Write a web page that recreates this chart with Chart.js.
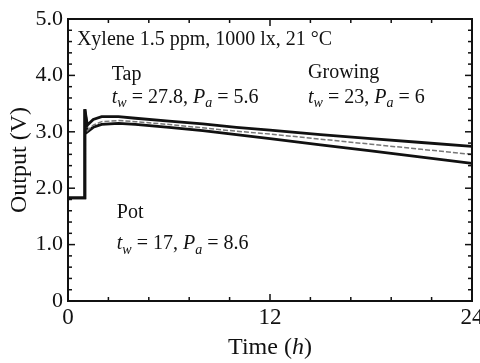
<!DOCTYPE html>
<html>
<head>
<meta charset="utf-8">
<script src="https://cdn.jsdelivr.net/npm/chart.js@4/dist/chart.umd.min.js"></script>
<style>
  html, body { margin: 0; padding: 0; background: #fff; }
  #c { display: block; }
</style>
</head>
<body>
<canvas id="c" width="480" height="363"></canvas>
<script>
// time points (h)
const times = [0, 1.0, 1.0, 1.15, 1.5, 2, 3, 4, 6, 8, 10, 12, 15, 18, 21, 24];
// output (V) of the three traces
const tapOut     = [1.83, 1.83, 3.4, 3.12, 3.22, 3.27, 3.27, 3.24, 3.19, 3.14, 3.08, 3.03, 2.95, 2.88, 2.81, 2.74];
const growingOut = [1.83, 1.83, 3.4, 3.02, 3.12, 3.18, 3.2, 3.18, 3.13, 3.07, 3.01, 2.96, 2.87, 2.78, 2.69, 2.6];
const potOut     = [1.83, 1.83, 3.4, 3.0, 3.08, 3.13, 3.15, 3.13, 3.08, 3.02, 2.95, 2.88, 2.77, 2.66, 2.55, 2.44];

const xLabels = [0, 12, 24];
const xMinor = [2.4, 4.8, 7.2, 9.6, 14.4, 16.8, 19.2, 21.6];
const yLabels = [0, 1, 2, 3, 4, 5];
const yMinor = [0.2, 0.4, 0.6, 0.8, 1.2, 1.4, 1.6, 1.8, 2.2, 2.4, 2.6, 2.8, 3.2, 3.4, 3.6, 3.8, 4.2, 4.4, 4.6, 4.8];

// annotation texts, placed in data units
const notes = [
  { x: 0.53, y: 4.63, parts: [{ t: 'Xylene 1.5 ppm, 1000 lx, 21 \u00B0C' }] },
  { x: 2.6, y: 4.02, parts: [{ t: 'Tap' }] },
  { x: 2.6, y: 3.61, parts: [{ t: 't', it: 1 }, { t: 'w', it: 1, sub: 1 }, { t: ' = 27.8, ' }, { t: 'P', it: 1 }, { t: 'a', it: 1, sub: 1 }, { t: ' = 5.6' }] },
  { x: 14.26, y: 4.04, parts: [{ t: 'Growing' }] },
  { x: 14.26, y: 3.61, parts: [{ t: 't', it: 1 }, { t: 'w', it: 1, sub: 1 }, { t: ' = 23, ' }, { t: 'P', it: 1 }, { t: 'a', it: 1, sub: 1 }, { t: ' = 6' }] },
  { x: 2.9, y: 1.57, parts: [{ t: 'Pot' }] },
  { x: 2.9, y: 1.01, parts: [{ t: 't', it: 1 }, { t: 'w', it: 1, sub: 1 }, { t: ' = 17, ' }, { t: 'P', it: 1 }, { t: 'a', it: 1, sub: 1 }, { t: ' = 8.6' }] }
];

const serif = '"Liberation Serif", "DejaVu Serif", serif';

function pts(vals) {
  return times.map((t, i) => ({ x: t, y: vals[i] }));
}

function drawParts(ctx, parts, x, y, size) {
  let cx = x;
  parts.forEach(p => {
    const fs = p.sub ? size * 0.7 : size;
    ctx.font = (p.it ? 'italic ' : '') + fs + 'px ' + serif;
    ctx.fillText(p.t, cx, p.sub ? y + size * 0.3 : y);
    cx += ctx.measureText(p.t).width;
  });
}

const framePlugin = {
  id: 'frame',
  afterDraw(chart) {
    const ctx = chart.ctx;
    const a = chart.chartArea;
    const xs = chart.scales.x, ys = chart.scales.y;
    ctx.save();
    ctx.strokeStyle = '#111';
    ctx.lineWidth = 2;
    ctx.strokeRect(a.left, a.top, a.right - a.left, a.bottom - a.top);

    // inward ticks
    ctx.lineWidth = 1.5;
    const tick = (x1, y1, x2, y2) => { ctx.beginPath(); ctx.moveTo(x1, y1); ctx.lineTo(x2, y2); ctx.stroke(); };
    xLabels.forEach(v => {
      const p = xs.getPixelForValue(v);
      tick(p, a.bottom, p, a.bottom - 7);
      tick(p, a.top, p, a.top + 7);
    });
    xMinor.forEach(v => {
      const p = xs.getPixelForValue(v);
      tick(p, a.bottom, p, a.bottom - 4);
      tick(p, a.top, p, a.top + 4);
    });
    yLabels.forEach(v => {
      const p = ys.getPixelForValue(v);
      tick(a.left, p, a.left + 7, p);
      tick(a.right, p, a.right - 7, p);
    });
    yMinor.forEach(v => {
      const p = ys.getPixelForValue(v);
      tick(a.left, p, a.left + 4, p);
      tick(a.right, p, a.right - 4, p);
    });

    // annotations
    ctx.fillStyle = '#111';
    ctx.textBaseline = 'middle';
    ctx.textAlign = 'left';
    notes.forEach(n => {
      drawParts(ctx, n.parts, xs.getPixelForValue(n.x), ys.getPixelForValue(n.y), 20);
    });

    // axis titles
    const mid = (a.left + a.right) / 2;
    const tw = [{ t: 'Time (' }, { t: 'h', it: 1 }, { t: ')' }];
    let w = 0;
    tw.forEach(p => { ctx.font = (p.it ? 'italic ' : '') + '24px ' + serif; w += ctx.measureText(p.t).width; });
    drawParts(ctx, tw, mid - w / 2, 348, 24);

    ctx.translate(20, (a.top + a.bottom) / 2);
    ctx.rotate(-Math.PI / 2);
    ctx.textAlign = 'center';
    ctx.font = '24px ' + serif;
    ctx.fillText('Output (V)', 0, 0);
    ctx.restore();
  }
};

new Chart(document.getElementById('c'), {
  type: 'line',
  data: {
    datasets: [
      { label: 'Tap', data: pts(tapOut), borderColor: '#111', borderWidth: 2.8 },
      { label: 'Growing', data: pts(growingOut), borderColor: '#777', borderWidth: 1.5, borderDash: [5, 2] },
      { label: 'Pot', data: pts(potOut), borderColor: '#111', borderWidth: 2.8 }
    ]
  },
  options: {
    responsive: false,
    animation: false,
    devicePixelRatio: 1,
    layout: { padding: { top: 19, right: 8, left: 0, bottom: 0 } },
    elements: { point: { radius: 0 }, line: { tension: 0, fill: false } },
    plugins: { legend: { display: false }, tooltip: { enabled: false } },
    scales: {
      x: {
        type: 'linear', min: 0, max: 24,
        afterBuildTicks: s => { s.ticks = xLabels.map(v => ({ value: v })); },
        afterFit: s => { s.height = 62; s.paddingLeft = 0; s.paddingRight = 0; },
        grid: { display: false, drawTicks: false },
        border: { display: false },
        ticks: { color: '#111', padding: 3, maxRotation: 0, font: { family: serif, size: 23 } }
      },
      y: {
        min: 0, max: 5,
        afterBuildTicks: s => { s.ticks = yLabels.map(v => ({ value: v })); },
        afterFit: s => { s.width = 68; s.paddingTop = 0; s.paddingBottom = 0; },
        grid: { display: false, drawTicks: false },
        border: { display: false },
        ticks: {
          color: '#111', padding: 5, font: { family: serif, size: 22 },
          callback: v => v === 0 ? '0' : v.toFixed(1)
        }
      }
    }
  },
  plugins: [framePlugin]
});
</script>
</body>
</html>
